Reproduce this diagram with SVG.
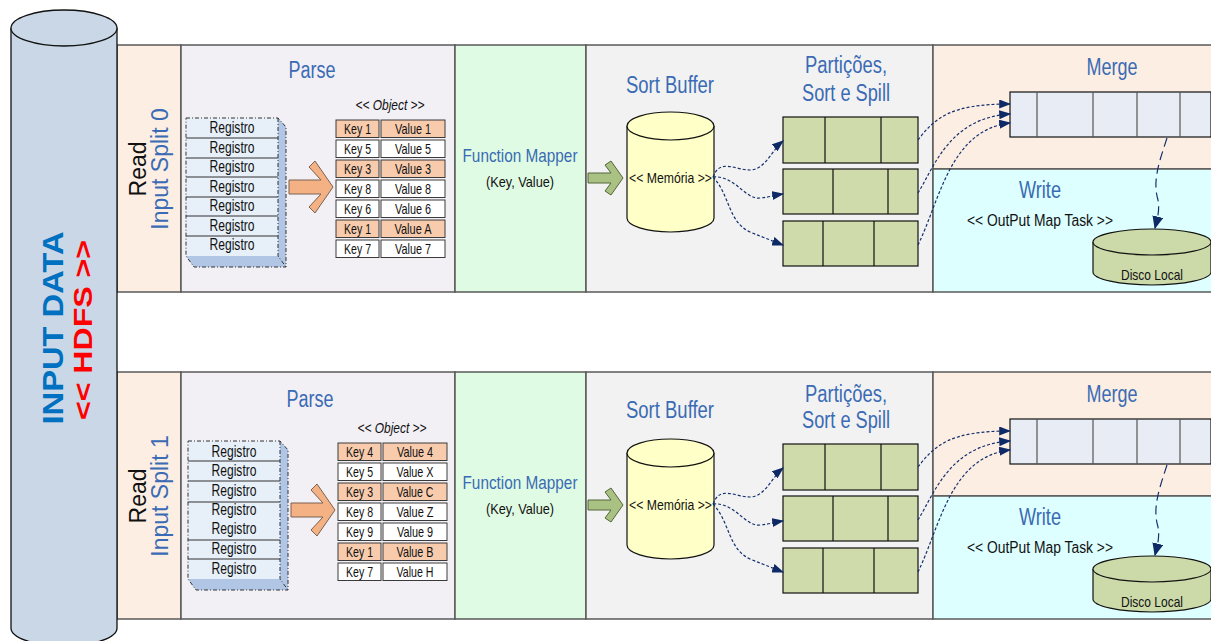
<svg xmlns="http://www.w3.org/2000/svg" width="1211" height="641" viewBox="0 0 1211 641">
  <defs>
    <style>
      .lane{stroke:#595959;stroke-width:1.5}
      .peach{fill:#FCEEE3}
      .lav{fill:#F2F0F5}
      .mint{fill:#E0FBE3}
      .grey{fill:#F2F2F2}
      .cyan{fill:#DDFFFF}
      .n{font-family:"Liberation Sans",Arial,sans-serif}
      .s{font-family:"Liberation Sans",Arial,sans-serif}
      .title{font-size:23px;fill:#3A6BB4;text-anchor:middle}
      .mid{text-anchor:middle}
      .rec{fill:#E7EFF9}
      .sep{stroke:#333;stroke-width:1}
      .dash{fill:none;stroke:#333;stroke-width:1;stroke-dasharray:4 2 1 2}
      .face{fill:#B1C6E4}
      .cell{stroke:#3a3a3a;stroke-width:1;fill:#FFFFFF}
      .hot{fill:#F8CBAD}
      .ctext{font-size:15px;fill:#111;text-anchor:middle}
      .rtext{font-size:16px;fill:#111;text-anchor:middle}
      .part{fill:#CFDBAA;stroke:#111;stroke-width:1.2}
      .pdiv{stroke:#111;stroke-width:1.2}
      .mbox{fill:#E7ECF5;stroke:#111;stroke-width:1.2}
      .mdiv{stroke:#555;stroke-width:1.2}
      .link{fill:none;stroke:#14306E;stroke-width:1.2;stroke-dasharray:3 2}
      .longlink{fill:none;stroke:#14306E;stroke-width:1.2;stroke-dasharray:9 5}
    </style>
    <marker id="ah" viewBox="0 0 10 10" refX="9" refY="5" markerWidth="12" markerHeight="9" markerUnits="userSpaceOnUse" orient="auto" preserveAspectRatio="none">
      <path d="M0,0 L10,5 L0,10 z" fill="#0E2A66"/>
    </marker>
    <marker id="ahb" viewBox="0 0 10 10" refX="9" refY="5" markerWidth="13" markerHeight="11" markerUnits="userSpaceOnUse" orient="auto" preserveAspectRatio="none">
      <path d="M0,0 L10,5 L0,10 z" fill="#0E2A66"/>
    </marker>
  </defs>

  <rect width="1211" height="641" fill="#FFFFFF"/>

  <!-- ===== split 0 ===== -->
  <g id="split-0">
    <g id="lanes-0">
      <rect class="lane peach" x="117" y="45" width="64" height="247"/>
      <rect class="lane lav" x="181" y="45" width="274" height="247"/>
      <rect class="lane mint" x="455" y="45" width="131" height="247"/>
      <rect class="lane grey" x="586" y="45" width="347" height="247"/>
      <rect class="lane peach" x="933" y="45" width="279" height="124"/>
      <rect class="lane cyan" x="933" y="169" width="279" height="123"/>
    </g>

    <g id="read-0" class="s" font-size="23">
      <text transform="translate(146,169) rotate(-90)" class="mid" fill="#111">Read</text>
      <text transform="translate(168,169) rotate(-90)" class="mid" fill="#3A6BB4">Input Split 0</text>
    </g>

    <g id="parse-0">
      <text class="n title" x="312" y="78" textLength="47" lengthAdjust="spacingAndGlyphs">Parse</text>
      <g id="registros-0">
        <polygon class="face" points="278,118 286,127 286,267 278,256"/>
        <polygon class="face" points="186,256 278,256 286,267 194,267"/>
        <rect class="rec" x="186" y="118" width="92" height="138"/>
        <path class="sep" d="M186,138H278M186,158H278M186,177H278M186,197H278M186,216H278M186,236H278"/>
        <path class="dash" d="M186,118H278L286,127V267H194L186,256Z M278,118V256L286,267"/>
        <g class="n rtext">
          <text x="232" y="133" textLength="45" lengthAdjust="spacingAndGlyphs">Registro</text>
          <text x="232" y="153" textLength="45" lengthAdjust="spacingAndGlyphs">Registro</text>
          <text x="232" y="172" textLength="45" lengthAdjust="spacingAndGlyphs">Registro</text>
          <text x="232" y="192" textLength="45" lengthAdjust="spacingAndGlyphs">Registro</text>
          <text x="232" y="211" textLength="45" lengthAdjust="spacingAndGlyphs">Registro</text>
          <text x="232" y="231" textLength="45" lengthAdjust="spacingAndGlyphs">Registro</text>
          <text x="232" y="250" textLength="45" lengthAdjust="spacingAndGlyphs">Registro</text>
        </g>
      </g>
      <polygon id="parse-arrow-0" points="289,180 321,180 309,167 315,161 333,187 315,213 309,207 321,194 289,194" fill="#F4B183" stroke="#7A6252" stroke-width="1"/>
      <g id="object-0">
        <text class="n mid" x="390" y="110" font-size="14" font-style="italic" fill="#111" textLength="69" lengthAdjust="spacingAndGlyphs">&lt;&lt; Object &gt;&gt;</text>
        <g>
          <rect class="cell hot" x="336" y="120" width="43" height="17.5"/><rect class="cell hot" x="381" y="120" width="64" height="17.5"/>
          <rect class="cell" x="336" y="140" width="43" height="17.5"/><rect class="cell" x="381" y="140" width="64" height="17.5"/>
          <rect class="cell hot" x="336" y="160" width="43" height="17.5"/><rect class="cell hot" x="381" y="160" width="64" height="17.5"/>
          <rect class="cell" x="336" y="180" width="43" height="17.5"/><rect class="cell" x="381" y="180" width="64" height="17.5"/>
          <rect class="cell" x="336" y="200" width="43" height="17.5"/><rect class="cell" x="381" y="200" width="64" height="17.5"/>
          <rect class="cell hot" x="336" y="220" width="43" height="17.5"/><rect class="cell hot" x="381" y="220" width="64" height="17.5"/>
          <rect class="cell" x="336" y="240" width="43" height="17.5"/><rect class="cell" x="381" y="240" width="64" height="17.5"/>
        </g>
        <g class="n ctext">
          <text x="357.5" y="134" textLength="27" lengthAdjust="spacingAndGlyphs">Key 1</text><text x="413" y="134" textLength="36" lengthAdjust="spacingAndGlyphs">Value 1</text>
          <text x="357.5" y="154" textLength="27" lengthAdjust="spacingAndGlyphs">Key 5</text><text x="413" y="154" textLength="36" lengthAdjust="spacingAndGlyphs">Value 5</text>
          <text x="357.5" y="174" textLength="27" lengthAdjust="spacingAndGlyphs">Key 3</text><text x="413" y="174" textLength="36" lengthAdjust="spacingAndGlyphs">Value 3</text>
          <text x="357.5" y="194" textLength="27" lengthAdjust="spacingAndGlyphs">Key 8</text><text x="413" y="194" textLength="36" lengthAdjust="spacingAndGlyphs">Value 8</text>
          <text x="357.5" y="214" textLength="27" lengthAdjust="spacingAndGlyphs">Key 6</text><text x="413" y="214" textLength="36" lengthAdjust="spacingAndGlyphs">Value 6</text>
          <text x="357.5" y="234" textLength="27" lengthAdjust="spacingAndGlyphs">Key 1</text><text x="413" y="234" textLength="37" lengthAdjust="spacingAndGlyphs">Value A</text>
          <text x="357.5" y="254" textLength="27" lengthAdjust="spacingAndGlyphs">Key 7</text><text x="413" y="254" textLength="36" lengthAdjust="spacingAndGlyphs">Value 7</text>
        </g>
      </g>
    </g>

    <g id="function-mapper-0" class="n">
      <text class="mid" x="520" y="162" font-size="19" fill="#3A6BB4" textLength="115" lengthAdjust="spacingAndGlyphs">Function Mapper</text>
      <text class="mid" x="520" y="187" font-size="15" fill="#111" textLength="68" lengthAdjust="spacingAndGlyphs">(Key, Value)</text>
    </g>

    <g id="sort-buffer-0">
      <text class="n title" x="670" y="93" textLength="88" lengthAdjust="spacingAndGlyphs">Sort Buffer</text>
      <polygon id="map-arrow-0" points="588,173 611,173 605,165 611,161 623,178 611,195 605,191 611,183 588,183" fill="#A9C283" stroke="#55663A" stroke-width="1"/>
      <g id="memoria-0">
        <path d="M627,126 V218 A43.5,14 0 0 0 714,218 V126" fill="#FFFFC8" stroke="#111" stroke-width="1.2"/>
        <ellipse cx="670.5" cy="126" rx="43.5" ry="14" fill="#FFFFC8" stroke="#111" stroke-width="1.2"/>
        <text class="n mid" x="670.5" y="183" font-size="15" fill="#111" textLength="83" lengthAdjust="spacingAndGlyphs">&lt;&lt; Memória &gt;&gt;</text>
      </g>
      <text class="n title" x="846" y="73" textLength="82" lengthAdjust="spacingAndGlyphs">Partições,</text>
      <text class="n title" x="846" y="101" textLength="88" lengthAdjust="spacingAndGlyphs">Sort e Spill</text>
      <g id="partitions-0">
        <rect class="part" x="783" y="117" width="135" height="46"/>
        <path class="pdiv" d="M825,117V163M881,117V163"/>
        <rect class="part" x="783" y="169" width="135" height="45"/>
        <path class="pdiv" d="M833,169V214M888,169V214"/>
        <rect class="part" x="783" y="221" width="135" height="45"/>
        <path class="pdiv" d="M823,221V266M874,221V266"/>
      </g>
    </g>

    <g id="merge-0">
      <text class="n title" x="1112" y="75" textLength="51" lengthAdjust="spacingAndGlyphs">Merge</text>
      <rect class="mbox" x="1010" y="92" width="201" height="45"/>
      <path class="mdiv" d="M1037,92V137M1093,92V137M1137,92V137M1180,92V137"/>
    </g>

    <g id="write-0">
      <text class="n title" x="1040" y="198" textLength="42" lengthAdjust="spacingAndGlyphs">Write</text>
      <text class="n mid" x="1040" y="226" font-size="16" fill="#111" textLength="146" lengthAdjust="spacingAndGlyphs">&lt;&lt; OutPut Map Task &gt;&gt;</text>
      <g id="disco-0">
        <path d="M1093,242 V272 A59,13 0 0 0 1211,272 V242" fill="#CCDAA9" stroke="#111" stroke-width="1.2"/>
        <ellipse cx="1152" cy="242" rx="59" ry="13" fill="#CCDAA9" stroke="#111" stroke-width="1.2"/>
        <text class="n mid" x="1152" y="280" font-size="15" fill="#111" textLength="62" lengthAdjust="spacingAndGlyphs">Disco Local</text>
      </g>
    </g>

    <g id="connectors-0">
      <path class="link" marker-end="url(#ah)" d="M713,177 C720,158 735,170 750,170 C765,170 772,150 783,141"/>
      <path class="link" marker-end="url(#ah)" d="M713,177 C735,175 745,200 760,198 C770,197 776,195 783,194"/>
      <path class="link" marker-end="url(#ah)" d="M713,177 C730,195 728,222 750,232 C765,238 775,242 783,245"/>
      <path class="link" marker-end="url(#ah)" d="M918,140 C935,118 950,104 1010,104"/>
      <path class="link" marker-end="url(#ah)" d="M918,193 C935,165 950,118 1010,114"/>
      <path class="link" marker-end="url(#ah)" d="M918,245 C940,200 950,130 1010,123"/>
      <path class="longlink" marker-end="url(#ahb)" d="M1167,138 C1160,160 1152,180 1158,200 C1160,210 1157,220 1155,228"/>
    </g>
  </g>

  <!-- ===== split 1 ===== -->
  <g id="split-1" transform="translate(0,327)">
    <g id="lanes-1">
      <rect class="lane peach" x="117" y="45" width="64" height="247"/>
      <rect class="lane lav" x="181" y="45" width="274" height="247"/>
      <rect class="lane mint" x="455" y="45" width="131" height="247"/>
      <rect class="lane grey" x="586" y="45" width="347" height="247"/>
      <rect class="lane peach" x="933" y="45" width="279" height="124"/>
      <rect class="lane cyan" x="933" y="169" width="279" height="123"/>
    </g>

    <g id="read-1" class="s" font-size="23">
      <text transform="translate(146,169) rotate(-90)" class="mid" fill="#111">Read</text>
      <text transform="translate(168,169) rotate(-90)" class="mid" fill="#3A6BB4">Input Split 1</text>
    </g>

    <g id="parse-1">
      <text class="n title" x="310" y="80" textLength="47" lengthAdjust="spacingAndGlyphs">Parse</text>
      <g transform="translate(2,-4)">
        <g id="registros-1">
          <polygon class="face" points="278,118 286,127 286,267 278,256"/>
          <polygon class="face" points="186,256 278,256 286,267 194,267"/>
          <rect class="rec" x="186" y="118" width="92" height="138"/>
          <path class="sep" d="M186,138H278M186,158H278M186,179H278M186,217H278M186,236H278"/>
          <path class="dash" d="M186,118H278L286,127V267H194L186,256Z M278,118V256L286,267"/>
          <g class="n rtext">
            <text x="232" y="134" textLength="45" lengthAdjust="spacingAndGlyphs">Registro</text>
            <text x="232" y="153" textLength="45" lengthAdjust="spacingAndGlyphs">Registro</text>
            <text x="232" y="173" textLength="45" lengthAdjust="spacingAndGlyphs">Registro</text>
            <text x="232" y="192" textLength="45" lengthAdjust="spacingAndGlyphs">Registro</text>
            <text x="232" y="211" textLength="45" lengthAdjust="spacingAndGlyphs">Registro</text>
            <text x="232" y="231" textLength="45" lengthAdjust="spacingAndGlyphs">Registro</text>
            <text x="232" y="251" textLength="45" lengthAdjust="spacingAndGlyphs">Registro</text>
          </g>
        </g>
        <polygon id="parse-arrow-1" points="289,180 321,180 309,167 315,161 333,187 315,213 309,207 321,194 289,194" fill="#F4B183" stroke="#7A6252" stroke-width="1"/>
        <g id="object-1">
          <text class="n mid" x="390" y="110" font-size="14" font-style="italic" fill="#111" textLength="69" lengthAdjust="spacingAndGlyphs">&lt;&lt; Object &gt;&gt;</text>
          <g>
            <rect class="cell hot" x="336" y="120" width="43" height="17.5"/><rect class="cell hot" x="381" y="120" width="64" height="17.5"/>
            <rect class="cell" x="336" y="140" width="43" height="17.5"/><rect class="cell" x="381" y="140" width="64" height="17.5"/>
            <rect class="cell hot" x="336" y="160" width="43" height="17.5"/><rect class="cell hot" x="381" y="160" width="64" height="17.5"/>
            <rect class="cell" x="336" y="180" width="43" height="17.5"/><rect class="cell" x="381" y="180" width="64" height="17.5"/>
            <rect class="cell" x="336" y="200" width="43" height="17.5"/><rect class="cell" x="381" y="200" width="64" height="17.5"/>
            <rect class="cell hot" x="336" y="220" width="43" height="17.5"/><rect class="cell hot" x="381" y="220" width="64" height="17.5"/>
            <rect class="cell" x="336" y="240" width="43" height="17.5"/><rect class="cell" x="381" y="240" width="64" height="17.5"/>
          </g>
          <g class="n ctext">
            <text x="357.5" y="134" textLength="27" lengthAdjust="spacingAndGlyphs">Key 4</text><text x="413" y="134" textLength="36" lengthAdjust="spacingAndGlyphs">Value 4</text>
            <text x="357.5" y="154" textLength="27" lengthAdjust="spacingAndGlyphs">Key 5</text><text x="413" y="154" textLength="37" lengthAdjust="spacingAndGlyphs">Value X</text>
            <text x="357.5" y="174" textLength="27" lengthAdjust="spacingAndGlyphs">Key 3</text><text x="413" y="174" textLength="37" lengthAdjust="spacingAndGlyphs">Value C</text>
            <text x="357.5" y="194" textLength="27" lengthAdjust="spacingAndGlyphs">Key 8</text><text x="413" y="194" textLength="37" lengthAdjust="spacingAndGlyphs">Value Z</text>
            <text x="357.5" y="214" textLength="27" lengthAdjust="spacingAndGlyphs">Key 9</text><text x="413" y="214" textLength="36" lengthAdjust="spacingAndGlyphs">Value 9</text>
            <text x="357.5" y="234" textLength="27" lengthAdjust="spacingAndGlyphs">Key 1</text><text x="413" y="234" textLength="37" lengthAdjust="spacingAndGlyphs">Value B</text>
            <text x="357.5" y="254" textLength="27" lengthAdjust="spacingAndGlyphs">Key 7</text><text x="413" y="254" textLength="37" lengthAdjust="spacingAndGlyphs">Value H</text>
          </g>
        </g>
      </g>
    </g>

    <g id="function-mapper-1" class="n">
      <text class="mid" x="520" y="162" font-size="19" fill="#3A6BB4" textLength="115" lengthAdjust="spacingAndGlyphs">Function Mapper</text>
      <text class="mid" x="520" y="187" font-size="15" fill="#111" textLength="68" lengthAdjust="spacingAndGlyphs">(Key, Value)</text>
    </g>

    <g id="sort-buffer-1">
      <text class="n title" x="670" y="91" textLength="88" lengthAdjust="spacingAndGlyphs">Sort Buffer</text>
      <polygon id="map-arrow-1" points="588,173 611,173 605,165 611,161 623,178 611,195 605,191 611,183 588,183" fill="#A9C283" stroke="#55663A" stroke-width="1"/>
      <g id="memoria-1">
        <path d="M627,126 V218 A43.5,14 0 0 0 714,218 V126" fill="#FFFFC8" stroke="#111" stroke-width="1.2"/>
        <ellipse cx="670.5" cy="126" rx="43.5" ry="14" fill="#FFFFC8" stroke="#111" stroke-width="1.2"/>
        <text class="n mid" x="670.5" y="183" font-size="15" fill="#111" textLength="83" lengthAdjust="spacingAndGlyphs">&lt;&lt; Memória &gt;&gt;</text>
      </g>
      <text class="n title" x="846" y="75" textLength="82" lengthAdjust="spacingAndGlyphs">Partições,</text>
      <text class="n title" x="846" y="101" textLength="88" lengthAdjust="spacingAndGlyphs">Sort e Spill</text>
      <g id="partitions-1">
        <rect class="part" x="783" y="117" width="135" height="46"/>
        <path class="pdiv" d="M825,117V163M881,117V163"/>
        <rect class="part" x="783" y="169" width="135" height="45"/>
        <path class="pdiv" d="M833,169V214M888,169V214"/>
        <rect class="part" x="783" y="221" width="135" height="45"/>
        <path class="pdiv" d="M823,221V266M874,221V266"/>
      </g>
    </g>

    <g id="merge-1">
      <text class="n title" x="1112" y="75" textLength="51" lengthAdjust="spacingAndGlyphs">Merge</text>
      <rect class="mbox" x="1010" y="92" width="201" height="45"/>
      <path class="mdiv" d="M1037,92V137M1093,92V137M1137,92V137M1180,92V137"/>
    </g>

    <g id="write-1">
      <text class="n title" x="1040" y="198" textLength="42" lengthAdjust="spacingAndGlyphs">Write</text>
      <text class="n mid" x="1040" y="226" font-size="16" fill="#111" textLength="146" lengthAdjust="spacingAndGlyphs">&lt;&lt; OutPut Map Task &gt;&gt;</text>
      <g id="disco-1">
        <path d="M1093,242 V272 A59,13 0 0 0 1211,272 V242" fill="#CCDAA9" stroke="#111" stroke-width="1.2"/>
        <ellipse cx="1152" cy="242" rx="59" ry="13" fill="#CCDAA9" stroke="#111" stroke-width="1.2"/>
        <text class="n mid" x="1152" y="280" font-size="15" fill="#111" textLength="62" lengthAdjust="spacingAndGlyphs">Disco Local</text>
      </g>
    </g>

    <g id="connectors-1">
      <path class="link" marker-end="url(#ah)" d="M713,177 C720,158 735,170 750,170 C765,170 772,150 783,141"/>
      <path class="link" marker-end="url(#ah)" d="M713,177 C735,175 745,200 760,198 C770,197 776,195 783,194"/>
      <path class="link" marker-end="url(#ah)" d="M713,177 C730,195 728,222 750,232 C765,238 775,242 783,245"/>
      <path class="link" marker-end="url(#ah)" d="M918,140 C935,118 950,104 1010,104"/>
      <path class="link" marker-end="url(#ah)" d="M918,193 C935,165 950,118 1010,114"/>
      <path class="link" marker-end="url(#ah)" d="M918,245 C940,200 950,130 1010,123"/>
      <path class="longlink" marker-end="url(#ahb)" d="M1167,138 C1160,160 1152,180 1158,200 C1160,210 1157,220 1155,228"/>
    </g>
  </g>

  <!-- HDFS input store, drawn over the lane edges -->
  <g id="input-data">
    <path d="M11,28 V628 A53,18 0 0 0 117,628 V28" fill="#C9D7E6" stroke="#111" stroke-width="1.3"/>
    <ellipse cx="64" cy="28" rx="53" ry="18" fill="#C9D7E6" stroke="#111" stroke-width="1.3"/>
    <text class="s mid" transform="translate(63,328) rotate(-90)" font-size="29" font-weight="bold" fill="#0070C0" textLength="193" lengthAdjust="spacingAndGlyphs">INPUT DATA</text>
    <text class="s mid" transform="translate(92,330) rotate(-90)" font-size="25" font-weight="bold" fill="#FF0000" textLength="180" lengthAdjust="spacingAndGlyphs">&lt;&lt; HDFS &gt;&gt;</text>
  </g>
</svg>
